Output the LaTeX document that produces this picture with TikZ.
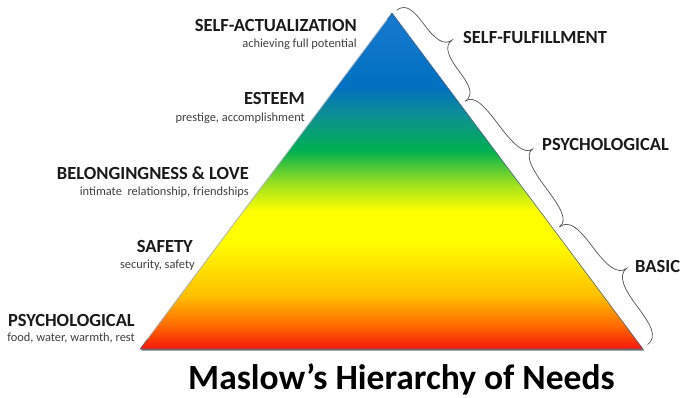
\documentclass[tikz,border=0pt]{standalone}
\usepackage{fontspec}
\setmainfont{Carlito}
\usetikzlibrary{shadows,calc}
\definecolor{cRed}{RGB}{245,22,12}
\definecolor{cOrange}{RGB}{255,106,0}
\definecolor{cAmber}{RGB}{255,192,0}
\definecolor{cYellow}{RGB}{255,255,0}
\definecolor{cLime}{RGB}{160,226,30}
\definecolor{cGreen}{RGB}{0,176,80}
\definecolor{cTeal}{RGB}{14,142,150}
\definecolor{cBlue}{RGB}{0,112,192}
\definecolor{cBlueTop}{RGB}{20,120,205}
\definecolor{headText}{RGB}{26,26,26}
\definecolor{subText}{RGB}{64,64,64}
\definecolor{braceCol}{RGB}{90,90,90}
\definecolor{edgeCol}{RGB}{85,105,135}
\pgfdeclareverticalshading{maslow}{100bp}{%
color(0bp)=(cRed); color(25bp)=(cRed); color(28.5bp)=(cOrange);
color(33bp)=(cAmber); color(41bp)=(cYellow); color(45.5bp)=(cYellow);
color(49.5bp)=(cLime); color(54.5bp)=(cGreen); color(60bp)=(cTeal);
color(64bp)=(cBlue); color(73bp)=(cBlueTop); color(100bp)=(cBlueTop)}
\newcommand{\mybrace}[4]{% start u, length, amplitude, name of tip
\path (0,0) ++(#1,0) coordinate (#4s);
\draw[bracestyle] (#1,0) .. controls (#1,-0.45*#3) and ({#1+0.1*#2},-0.5*#3) .. ({#1+0.25*#2},-0.5*#3)
 .. controls ({#1+0.4*#2},-0.5*#3) and ({#1+0.5*#2},-0.6*#3) .. ({#1+0.5*#2},-#3) coordinate (#4)
 .. controls ({#1+0.5*#2},-0.6*#3) and ({#1+0.6*#2},-0.5*#3) .. ({#1+0.75*#2},-0.5*#3)
 .. controls ({#1+0.9*#2},-0.5*#3) and ({#1+#2},-0.45*#3) .. ({#1+#2},0);}
\tikzset{
 bracestyle/.style={draw=braceCol, line width=0.75pt},
 head/.style={font=\fontsize{18.5}{20}\selectfont\bfseries, text=headText, inner sep=0pt},
 sub/.style={font=\fontsize{12.4}{14}\selectfont, text=subText, inner sep=0pt},
 grp/.style={font=\fontsize{18.5}{20}\selectfont\bfseries, text=headText, inner sep=0pt, anchor=west},
}
\begin{document}
\begin{tikzpicture}[x=1pt,y=-1pt]
\useasboundingbox (0,0) rectangle (681,397);
\fill[white] (0,0) rectangle (681,397);
% pyramid
\coordinate (apex) at (392,13);
\coordinate (br) at (643,349);
\coordinate (bl) at (140,349);
\path[shading=maslow, draw=edgeCol, line width=0.6pt,
  drop shadow={shadow xshift=1.2pt, shadow yshift=-1.6pt, opacity=0.55, fill=black}]
  (apex) -- (br) -- (bl) -- cycle;
\draw[white, opacity=0.5, line width=0.8pt] ($(apex)!0.02!(bl)$) -- ($(apex)!0.97!(bl)$);
% braces
\begin{scope}[shift={(397,10)}, rotate=-53.16]
\mybrace{0}{114}{26}{tipA}
\mybrace{114}{157}{25}{tipB}
\mybrace{271}{147}{29}{tipC}
\end{scope}
\node[grp] (gA) at (463,37) {SELF-FULFILLMENT};
\node[grp] (gB) at (542,144) {PSYCHOLOGICAL};
\node[grp] (gC) at (635,266) {BASIC};
% level labels
\node[head, anchor=base east] (l5) at (357,31) {SELF-ACTUALIZATION};
\node[sub, anchor=base east] (s5) at (357,47) {achieving full potential};
\node[head, anchor=base east] (l4) at (305,104) {ESTEEM};
\node[sub, anchor=base east] (s4) at (305,121) {prestige, accomplishment};
\node[head, anchor=base east] (l3) at (249,179) {BELONGINGNESS \& LOVE};
\node[sub, anchor=base east] (s3) at (249,195) {intimate\ \ relationship, friendships};
\node[head, anchor=base east] (l2) at (193,252) {SAFETY};
\node[sub, anchor=base east] (s2) at (195,268) {security, safety};
\node[head, anchor=base east] (l1) at (135,326) {PSYCHOLOGICAL};
\node[sub, anchor=base east] (s1) at (135,341) {food, water, warmth, rest};
% title
\node[font=\fontsize{35.5}{40}\selectfont\bfseries, text=black, inner sep=0pt, anchor=base] (title) at (401.5,389.5) {Maslow’s Hierarchy of Needs};
\end{tikzpicture}
\end{document}
